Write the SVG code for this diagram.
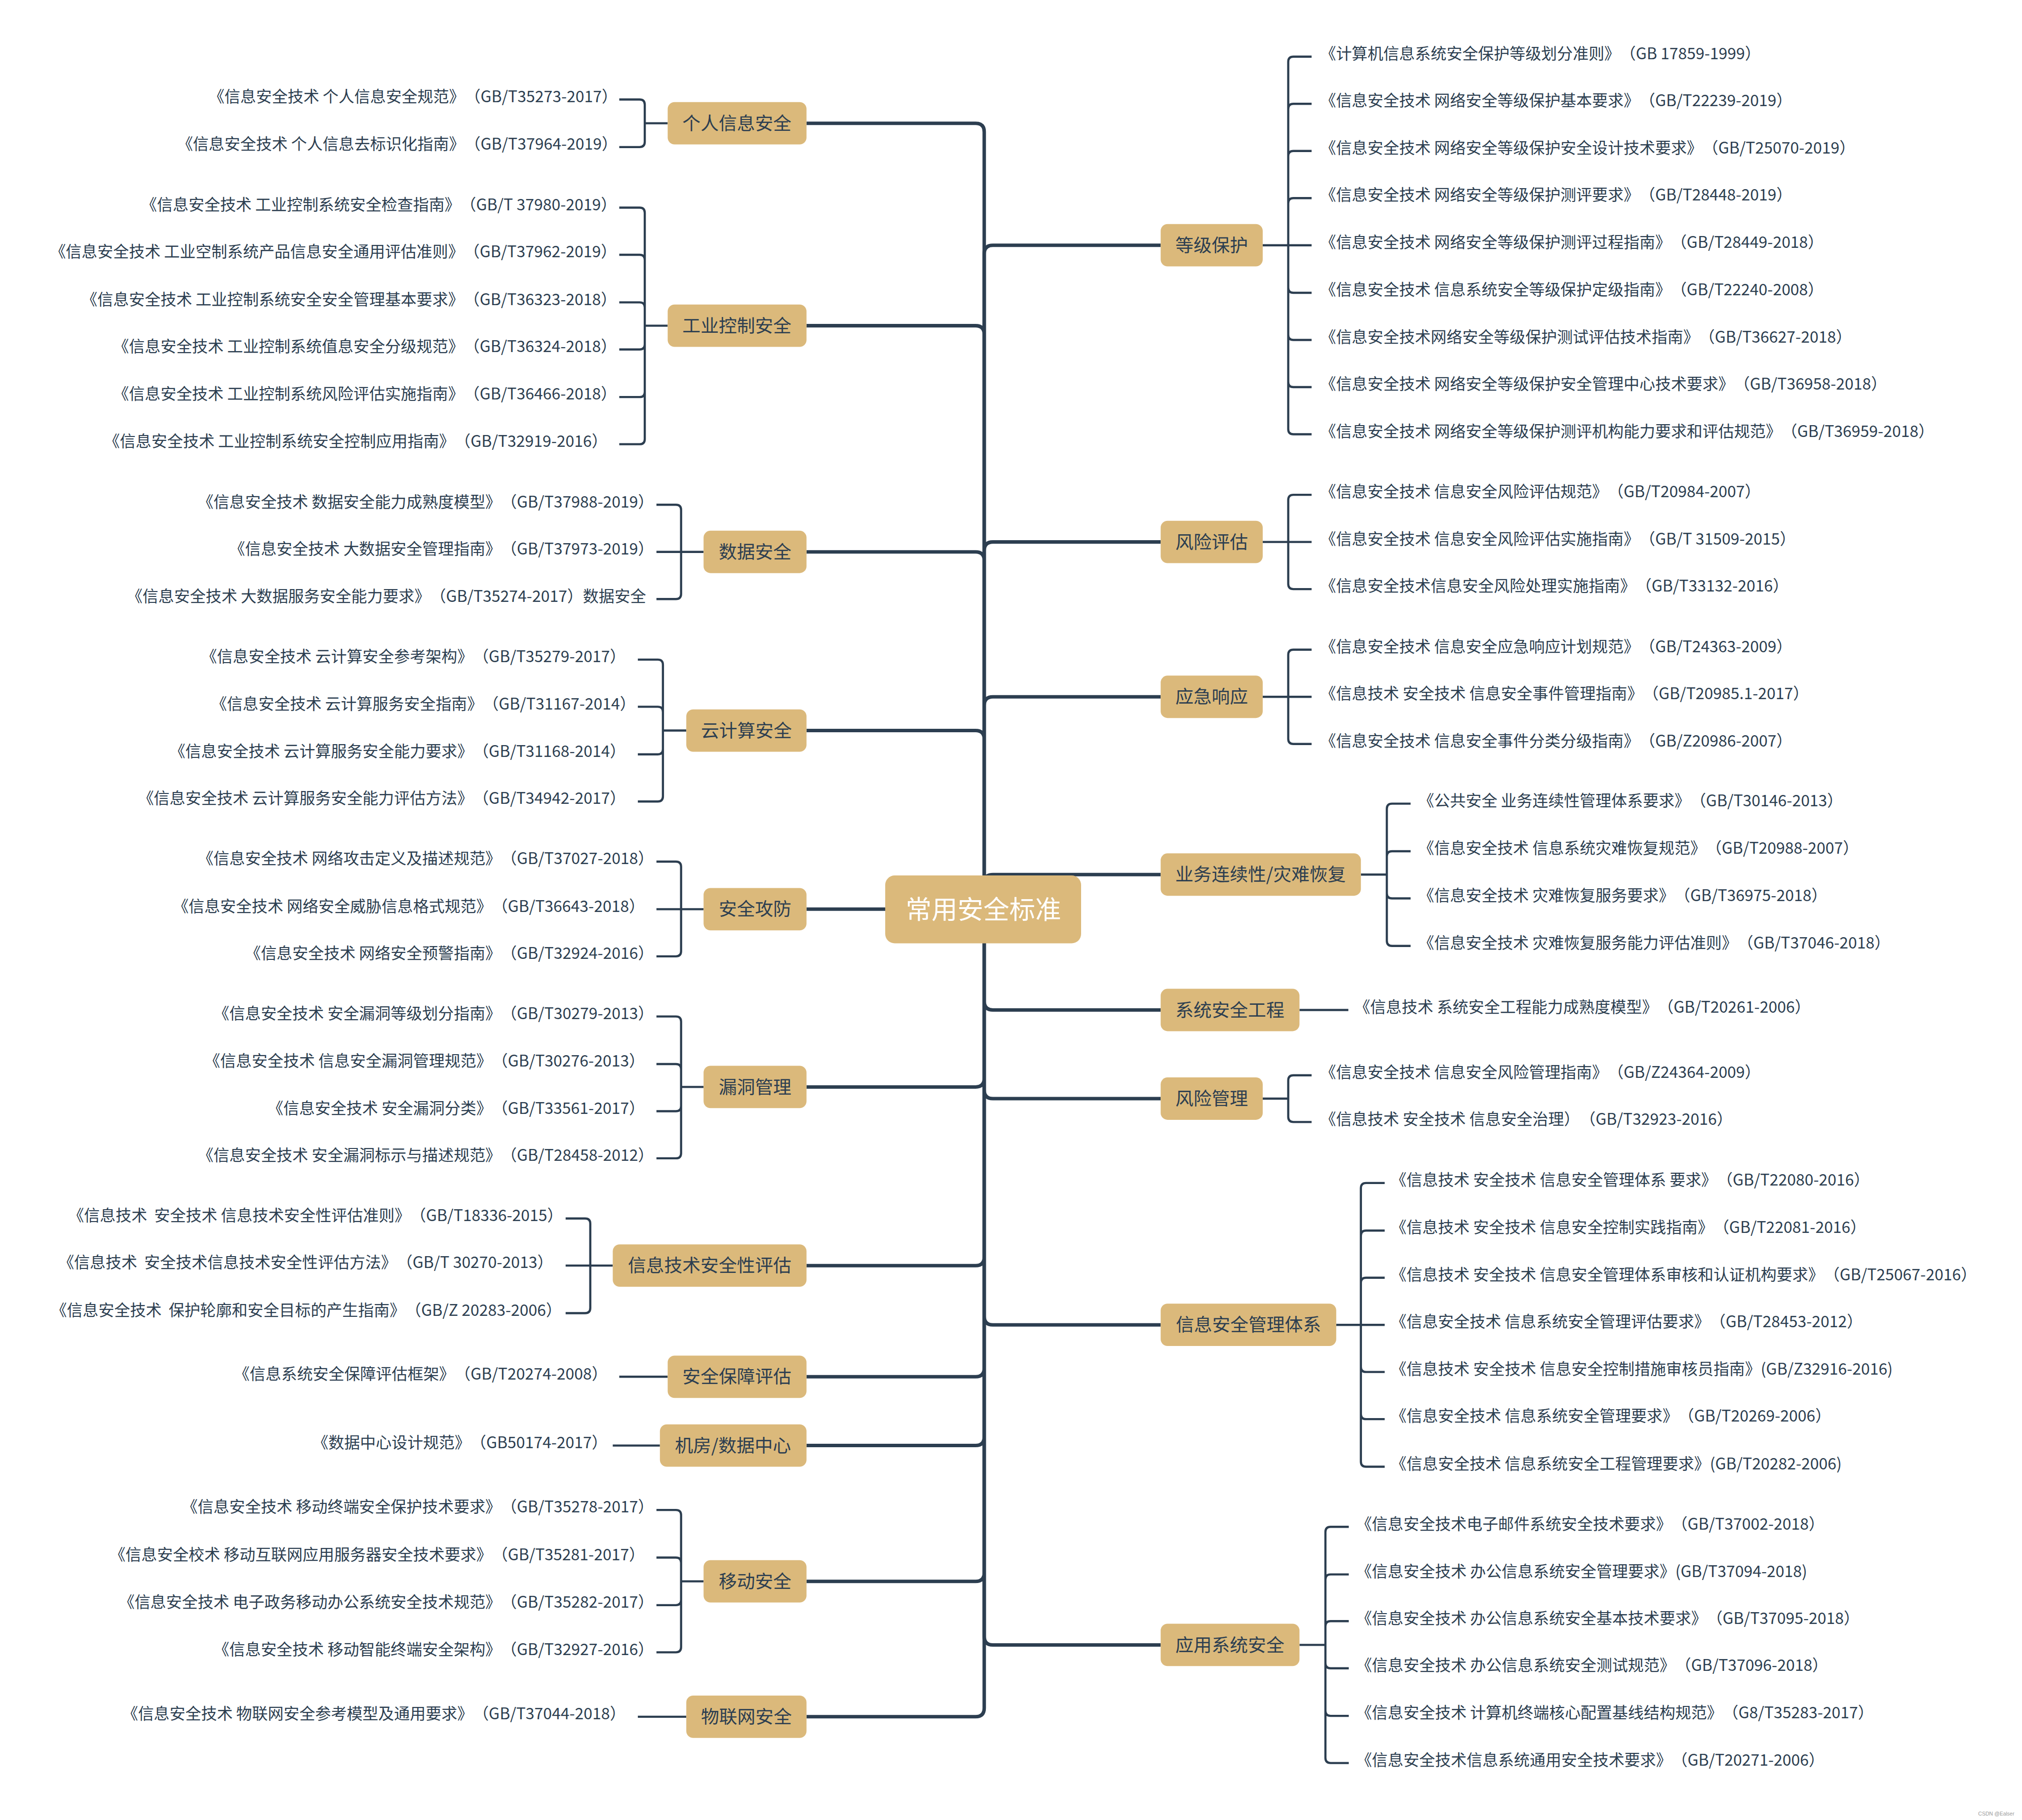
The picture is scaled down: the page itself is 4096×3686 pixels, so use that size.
<svg xmlns="http://www.w3.org/2000/svg" width="4096" height="3686" viewBox="0 0 4096 3686">
<style>
.m{fill:none;stroke:#2C3E50;stroke-width:8}
.s{fill:none;stroke:#2C3E50;stroke-width:5}
.b{fill:#DBB97B}
.t{font-family:"Noto Sans CJK SC","Noto Sans",sans-serif;font-size:36.5px;fill:#2C3E50;text-spacing-trim:space-all}
.l{text-anchor:end}
.n{font-family:"Noto Sans CJK SC","Noto Sans",sans-serif;font-size:42px;fill:#2C3E50;text-anchor:middle}
.c{font-family:"Noto Sans CJK SC","Noto Sans",sans-serif;font-size:60px;fill:#FFFFFF;text-anchor:middle}
</style>
<rect width="4096" height="3686" fill="#FFFFFF"/>
<g transform="scale(0.876)">
<g id="connectors">
<path class="m" d="M2276 2102V305Q2276 285 2256 285H1865 M2276 2102V773Q2276 753 2256 753H1865 M2276 2102V1296Q2276 1276 2256 1276H1865 M2276 2102V1709Q2276 1689 2256 1689H1865 M2276 2102H1865 M2276 2102V2493Q2276 2513 2256 2513H1865 M2276 2102V2906Q2276 2926 2256 2926H1865 M2276 2102V3163Q2276 3183 2256 3183H1865 M2276 2102V3322Q2276 3342 2256 3342H1865 M2276 2102V3636Q2276 3656 2256 3656H1865 M2276 2102V3949Q2276 3969 2256 3969H1865"/>
<path class="m" d="M2276 2102V587Q2276 567 2296 567H2684 M2276 2102V1273Q2276 1253 2296 1253H2684 M2276 2102V1631Q2276 1611 2296 1611H2684 M2276 2102V2042Q2276 2022 2296 2022H2684 M2276 2102V2315Q2276 2335 2296 2335H2684 M2276 2102V2520Q2276 2540 2296 2540H2684 M2276 2102V3043Q2276 3063 2296 3063H2684 M2276 2102V3783Q2276 3803 2296 3803H2684"/>
<path class="s" d="M1544 285H1491V242Q1491 230 1479 230H1432 M1544 285H1491V328Q1491 340 1479 340H1432"/>
<path class="s" d="M1544 753H1491V492Q1491 480 1479 480H1432 M1544 753H1491V601Q1491 589 1479 589H1432 M1544 753H1491V711Q1491 699 1479 699H1432 M1544 753H1491V796Q1491 808 1479 808H1432 M1544 753H1491V906Q1491 918 1479 918H1432 M1544 753H1491V1015Q1491 1027 1479 1027H1432"/>
<path class="s" d="M1627 1276H1575V1179Q1575 1167 1563 1167H1518 M1627 1276H1518 M1627 1276H1575V1373Q1575 1385 1563 1385H1518"/>
<path class="s" d="M1587 1689H1533V1537Q1533 1525 1521 1525H1475 M1587 1689H1533V1646Q1533 1634 1521 1634H1475 M1587 1689H1533V1732Q1533 1744 1521 1744H1475 M1587 1689H1533V1841Q1533 1853 1521 1853H1475"/>
<path class="s" d="M1627 2102H1575V2004Q1575 1992 1563 1992H1518 M1627 2102H1518 M1627 2102H1575V2199Q1575 2211 1563 2211H1518"/>
<path class="s" d="M1627 2513H1575V2362Q1575 2350 1563 2350H1518 M1627 2513H1575V2472Q1575 2460 1563 2460H1518 M1627 2513H1575V2557Q1575 2569 1563 2569H1518 M1627 2513H1575V2666Q1575 2678 1563 2678H1518"/>
<path class="s" d="M1417 2926H1365V2829Q1365 2817 1353 2817H1308 M1417 2926H1308 M1417 2926H1365V3024Q1365 3036 1353 3036H1308"/>
<path class="s" d="M1544 3183H1432 M1526 3342H1417 M1587 3969H1475"/>
<path class="s" d="M1627 3656H1575V3503Q1575 3491 1563 3491H1518 M1627 3656H1575V3613Q1575 3601 1563 3601H1518 M1627 3656H1575V3699Q1575 3711 1563 3711H1518 M1627 3656H1575V3808Q1575 3820 1563 3820H1518"/>
<path class="s" d="M2920 567H2979V143Q2979 131 2991 131H3033 M2920 567H2979V252Q2979 240 2991 240H3033 M2920 567H2979V361Q2979 349 2991 349H3033 M2920 567H2979V470Q2979 458 2991 458H3033 M2920 567H3033 M2920 567H2979V665Q2979 677 2991 677H3033 M2920 567H2979V774Q2979 786 2991 786H3033 M2920 567H2979V883Q2979 895 2991 895H3033 M2920 567H2979V992Q2979 1004 2991 1004H3033"/>
<path class="s" d="M2920 1253H2979V1156Q2979 1144 2991 1144H3033 M2920 1253H3033 M2920 1253H2979V1350Q2979 1362 2991 1362H3033"/>
<path class="s" d="M2920 1611H2979V1514Q2979 1502 2991 1502H3033 M2920 1611H3033 M2920 1611H2979V1708Q2979 1720 2991 1720H3033"/>
<path class="s" d="M3147 2022H3207V1870Q3207 1858 3219 1858H3262 M3147 2022H3207V1980Q3207 1968 3219 1968H3262 M3147 2022H3207V2065Q3207 2077 3219 2077H3262 M3147 2022H3207V2175Q3207 2187 3219 2187H3262"/>
<path class="s" d="M3005 2335H3118"/>
<path class="s" d="M2920 2540H2979V2498Q2979 2486 2991 2486H3033 M2920 2540H2979V2582Q2979 2594 2991 2594H3033"/>
<path class="s" d="M3090 3063H3147V2747Q3147 2735 3159 2735H3202 M3090 3063H3147V2857Q3147 2845 3159 2845H3202 M3090 3063H3147V2966Q3147 2954 3159 2954H3202 M3090 3063H3202 M3090 3063H3147V3160Q3147 3172 3159 3172H3202 M3090 3063H3147V3269Q3147 3281 3159 3281H3202 M3090 3063H3147V3379Q3147 3391 3159 3391H3202"/>
<path class="s" d="M3005 3803H3065V3542Q3065 3530 3077 3530H3119 M3005 3803H3065V3652Q3065 3640 3077 3640H3119 M3005 3803H3065V3760Q3065 3748 3077 3748H3119 M3005 3803H3065V3845Q3065 3857 3077 3857H3119 M3005 3803H3065V3955Q3065 3967 3077 3967H3119 M3005 3803H3065V4064Q3065 4076 3077 4076H3119"/>
</g>

<g id="center"><rect class="b" x="2047" y="2024" width="453" height="157" rx="22"/><text class="c" x="2274" y="2124">常用安全标准</text></g>

<g id="n-personal"><rect class="b" x="1544" y="236" width="321" height="98" rx="16"/><text class="n" x="1704" y="300">个人信息安全</text>
<text class="t l" x="1428" y="236">《信息安全技术 个人信息安全规范》（GB/T35273-2017）</text>
<text class="t l" x="1428" y="346">《信息安全技术 个人信息去标识化指南》（GB/T37964-2019）</text></g>

<g id="n-ics"><rect class="b" x="1544" y="704" width="321" height="98" rx="16"/><text class="n" x="1704" y="768">工业控制安全</text>
<text class="t l" x="1426" y="486">《信息安全技术 工业控制系统安全检查指南》（GB/T 37980-2019）</text>
<text class="t l" x="1426" y="595">《信息安全技术 工业空制系统产品信息安全通用评估准则》（GB/T37962-2019）</text>
<text class="t l" x="1426" y="705">《信息安全技术 工业控制系统安全安全管理基本要求》（GB/T36323-2018）</text>
<text class="t l" x="1426" y="814">《信息安全技术 工业控制系统值息安全分级规范》（GB/T36324-2018）</text>
<text class="t l" x="1426" y="924">《信息安全技术 工业控制系统风险评估实施指南》（GB/T36466-2018）</text>
<text class="t l" x="1405" y="1033">《信息安全技术 工业控制系统安全控制应用指南》（GB/T32919-2016）</text></g>

<g id="n-data"><rect class="b" x="1627" y="1227" width="238" height="98" rx="16"/><text class="n" x="1746" y="1291">数据安全</text>
<text class="t l" x="1512" y="1173">《信息安全技术 数据安全能力成熟度模型》（GB/T37988-2019）</text>
<text class="t l" x="1512" y="1282">《信息安全技术 大数据安全管理指南》（GB/T37973-2019）</text>
<text class="t l" x="1494" y="1391">《信息安全技术 大数据服务安全能力要求》（GB/T35274-2017）数据安全</text></g>

<g id="n-cloud"><rect class="b" x="1587" y="1640" width="278" height="98" rx="16"/><text class="n" x="1726" y="1704">云计算安全</text>
<text class="t l" x="1447" y="1531">《信息安全技术 云计算安全参考架构》（GB/T35279-2017）</text>
<text class="t l" x="1470" y="1640">《信息安全技术 云计算服务安全指南》（GB/T31167-2014）</text>
<text class="t l" x="1447" y="1750">《信息安全技术 云计算服务安全能力要求》（GB/T31168-2014）</text>
<text class="t l" x="1447" y="1859">《信息安全技术 云计算服务安全能力评估方法》（GB/T34942-2017）</text></g>

<g id="n-attack"><rect class="b" x="1627" y="2053" width="238" height="98" rx="16"/><text class="n" x="1746" y="2117">安全攻防</text>
<text class="t l" x="1512" y="1998">《信息安全技术 网络攻击定义及描述规范》（GB/T37027-2018）</text>
<text class="t l" x="1491" y="2108">《信息安全技术 网络安全威胁信息格式规范》（GB/T36643-2018）</text>
<text class="t l" x="1512" y="2217">《信息安全技术 网络安全预警指南》（GB/T32924-2016）</text></g>

<g id="n-vuln"><rect class="b" x="1627" y="2464" width="238" height="98" rx="16"/><text class="n" x="1746" y="2528">漏洞管理</text>
<text class="t l" x="1512" y="2356">《信息安全技术 安全漏洞等级划分指南》（GB/T30279-2013）</text>
<text class="t l" x="1491" y="2466">《信息安全技术 信息安全漏洞管理规范》（GB/T30276-2013）</text>
<text class="t l" x="1491" y="2575">《信息安全技术 安全漏洞分类》（GB/T33561-2017）</text>
<text class="t l" x="1512" y="2684">《信息安全技术 安全漏洞标示与描述规范》（GB/T28458-2012）</text></g>

<g id="n-iteval"><rect class="b" x="1417" y="2877" width="448" height="98" rx="16"/><text class="n" x="1641" y="2941">信息技术安全性评估</text>
<text class="t l" x="1302" y="2823" xml:space="preserve">《信息技术  安全技术 信息技术安全性评估准则》（GB/T18336-2015）</text>
<text class="t l" x="1279" y="2932" xml:space="preserve">《信息技术  安全技术信息技术安全性评估方法》（GB/T 30270-2013）</text>
<text class="t l" x="1299" y="3042" xml:space="preserve">《信息安全技术  保护轮廓和安全目标的产生指南》（GB/Z 20283-2006）</text></g>

<g id="n-assurance"><rect class="b" x="1544" y="3134" width="321" height="98" rx="16"/><text class="n" x="1704" y="3198">安全保障评估</text>
<text class="t l" x="1405" y="3189">《信息系统安全保障评估框架》（GB/T20274-2008）</text></g>

<g id="n-dc"><rect class="b" x="1526" y="3293" width="339" height="98" rx="16"/><text class="n" x="1695" y="3357">机房/数据中心</text>
<text class="t l" x="1405" y="3348">《数据中心设计规范》（GB50174-2017）</text></g>

<g id="n-mobile"><rect class="b" x="1627" y="3607" width="238" height="98" rx="16"/><text class="n" x="1746" y="3671">移动安全</text>
<text class="t l" x="1512" y="3497">《信息安全技术 移动终端安全保护技术要求》（GB/T35278-2017）</text>
<text class="t l" x="1491" y="3607">《信息安全校术 移动互联网应用服务器安全技术要求》（GB/T35281-2017）</text>
<text class="t l" x="1512" y="3717">《信息安全技术 电子政务移动办公系统安全技术规范》（GB/T35282-2017）</text>
<text class="t l" x="1512" y="3826">《信息安全技术 移动智能终端安全架构》（GB/T32927-2016）</text></g>

<g id="n-iot"><rect class="b" x="1587" y="3920" width="278" height="98" rx="16"/><text class="n" x="1726" y="3984">物联网安全</text>
<text class="t l" x="1447" y="3975">《信息安全技术 物联网安全参考模型及通用要求》（GB/T37044-2018）</text></g>

<g id="n-mlps"><rect class="b" x="2684" y="518" width="236" height="98" rx="16"/><text class="n" x="2802" y="582">等级保护</text>
<text class="t" x="3053" y="137">《计算机信息系统安全保护等级划分准则》（GB 17859-1999）</text>
<text class="t" x="3053" y="246">《信息安全技术 网络安全等级保护基本要求》（GB/T22239-2019）</text>
<text class="t" x="3053" y="355">《信息安全技术 网络安全等级保护安全设计技术要求》（GB/T25070-2019）</text>
<text class="t" x="3053" y="464">《信息安全技术 网络安全等级保护测评要求》（GB/T28448-2019）</text>
<text class="t" x="3053" y="573">《信息安全技术 网络安全等级保护测评过程指南》（GB/T28449-2018）</text>
<text class="t" x="3053" y="683">《信息安全技术 信息系统安全等级保护定级指南》（GB/T22240-2008）</text>
<text class="t" x="3053" y="792">《信息安全技术网络安全等级保护测试评估技术指南》（GB/T36627-2018）</text>
<text class="t" x="3053" y="901">《信息安全技术 网络安全等级保护安全管理中心技术要求》（GB/T36958-2018）</text>
<text class="t" x="3053" y="1010">《信息安全技术 网络安全等级保护测评机构能力要求和评估规范》（GB/T36959-2018）</text></g>

<g id="n-riskassess"><rect class="b" x="2684" y="1204" width="236" height="98" rx="16"/><text class="n" x="2802" y="1268">风险评估</text>
<text class="t" x="3053" y="1150">《信息安全技术 信息安全风险评估规范》（GB/T20984-2007）</text>
<text class="t" x="3053" y="1259">《信息安全技术 信息安全风险评估实施指南》（GB/T 31509-2015）</text>
<text class="t" x="3053" y="1368">《信息安全技术信息安全风险处理实施指南》（GB/T33132-2016）</text></g>

<g id="n-emergency"><rect class="b" x="2684" y="1562" width="236" height="98" rx="16"/><text class="n" x="2802" y="1626">应急响应</text>
<text class="t" x="3053" y="1508">《信息安全技术 信息安全应急响应计划规范》（GB/T24363-2009）</text>
<text class="t" x="3053" y="1617">《信息技术 安全技术 信息安全事件管理指南》（GB/T20985.1-2017）</text>
<text class="t" x="3053" y="1726">《信息安全技术 信息安全事件分类分级指南》（GB/Z20986-2007）</text></g>

<g id="n-continuity"><rect class="b" x="2684" y="1973" width="463" height="98" rx="16"/><text class="n" x="2915" y="2037">业务连续性/灾难恢复</text>
<text class="t" x="3280" y="1864">《公共安全 业务连续性管理体系要求》（GB/T30146-2013）</text>
<text class="t" x="3280" y="1974">《信息安全技术 信息系统灾难恢复规范》（GB/T20988-2007）</text>
<text class="t" x="3280" y="2083">《信息安全技术 灾难恢复服务要求》（GB/T36975-2018）</text>
<text class="t" x="3280" y="2193">《信息安全技术 灾难恢复服务能力评估准则》（GB/T37046-2018）</text></g>

<g id="n-sse"><rect class="b" x="2684" y="2286" width="321" height="98" rx="16"/><text class="n" x="2844" y="2350">系统安全工程</text>
<text class="t" x="3132" y="2341">《信息技术 系统安全工程能力成熟度模型》（GB/T20261-2006）</text></g>

<g id="n-riskmgmt"><rect class="b" x="2684" y="2491" width="236" height="98" rx="16"/><text class="n" x="2802" y="2555">风险管理</text>
<text class="t" x="3053" y="2492">《信息安全技术 信息安全风险管理指南》（GB/Z24364-2009）</text>
<text class="t" x="3053" y="2600">《信息技术 安全技术 信息安全治理）（GB/T32923-2016）</text></g>

<g id="n-isms"><rect class="b" x="2684" y="3014" width="406" height="98" rx="16"/><text class="n" x="2887" y="3078">信息安全管理体系</text>
<text class="t" x="3216" y="2741">《信息技术 安全技术 信息安全管理体系 要求》（GB/T22080-2016）</text>
<text class="t" x="3216" y="2851">《信息技术 安全技术 信息安全控制实践指南》（GB/T22081-2016）</text>
<text class="t" x="3216" y="2960">《信息技术 安全技术 信息安全管理体系审核和认证机构要求》（GB/T25067-2016）</text>
<text class="t" x="3216" y="3069">《信息安全技术 信息系统安全管理评估要求》（GB/T28453-2012）</text>
<text class="t" x="3216" y="3178">《信息技术 安全技术 信息安全控制措施审核员指南》(GB/Z32916-2016)</text>
<text class="t" x="3216" y="3287">《信息安全技术 信息系统安全管理要求》（GB/T20269-2006）</text>
<text class="t" x="3216" y="3397">《信息安全技术 信息系统安全工程管理要求》(GB/T20282-2006)</text></g>

<g id="n-appsec"><rect class="b" x="2684" y="3754" width="321" height="98" rx="16"/><text class="n" x="2844" y="3818">应用系统安全</text>
<text class="t" x="3136" y="3536">《信息安全技术电子邮件系统安全技术要求》（GB/T37002-2018）</text>
<text class="t" x="3136" y="3646">《信息安全技术 办公信息系统安全管理要求》(GB/T37094-2018)</text>
<text class="t" x="3136" y="3754">《信息安全技术 办公信息系统安全基本技术要求》（GB/T37095-2018）</text>
<text class="t" x="3136" y="3863">《信息安全技术 办公信息系统安全测试规范》（GB/T37096-2018）</text>
<text class="t" x="3136" y="3973">《信息安全技术 计算机终端核心配置基线结构规范》（G8/T35283-2017）</text>
<text class="t" x="3136" y="4082">《信息安全技术信息系统通用安全技术要求》（GB/T20271-2006）</text></g>

<text x="4658" y="4197" text-anchor="end" font-family="Liberation Sans, sans-serif" font-size="12" fill="#9A9A9A">CSDN @Ealser</text>
</g>
</svg>
